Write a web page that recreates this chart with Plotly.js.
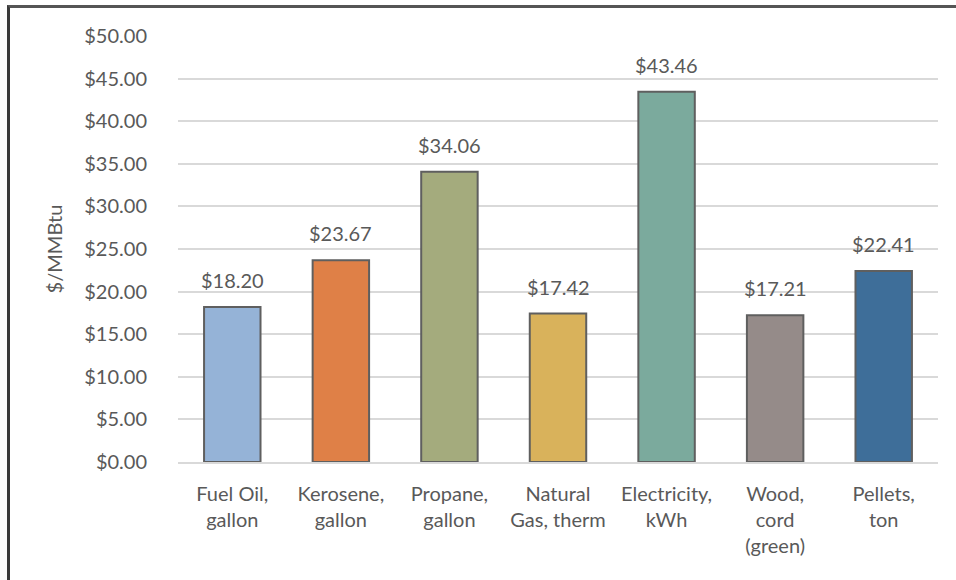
<!DOCTYPE html>
<html>
<head>
<meta charset="utf-8">
<script src="https://cdn.plot.ly/plotly-3.0.1.min.js"></script>
<style>
  html, body { margin: 0; padding: 0; background: #fff; }
  #wrap { position: relative; width: 956px; height: 580px; overflow: hidden; }
  #chart { position: absolute; left: 0; top: 0; width: 956px; height: 580px; }
  #frame {
    position: absolute; left: 7px; top: 5px; width: 960px; height: 573px;
    border-left: 3px solid #3a3a3a; border-top: 3px solid #555;
    border-bottom: 1px solid #c0c0c0; pointer-events: none;
  }
</style>
</head>
<body>
<div id="wrap">
  <div id="chart"></div>
  <div id="frame"></div>
</div>
<script>
// Heating fuel cost per million Btu
const fuels = [
  "Fuel Oil,<br>gallon",
  "Kerosene,<br>gallon",
  "Propane,<br>gallon",
  "Natural<br>Gas, therm",
  "Electricity,<br>kWh",
  "Wood,<br>cord<br>(green)",
  "Pellets,<br>ton"
];
const costPerMMBtu = [18.20, 23.67, 34.06, 17.42, 43.46, 17.21, 22.41];
const barColors = ["#95B3D7", "#DF8047", "#A4AB7D", "#D9B25B", "#7BAA9D", "#958B89", "#3E6E99"];
const yTickValues = [0, 5, 10, 15, 20, 25, 30, 35, 40, 45, 50];

const textColor = "#595959";
const font = "Lato, 'Open Sans', sans-serif";
const fsize = 20;

const money = v => "$" + v.toFixed(2);

const trace = {
  type: "bar",
  x: fuels,
  y: costPerMMBtu,
  marker: { color: barColors, line: { color: "#5f5f5f", width: 2 } },
  hoverinfo: "skip"
};

// value labels sitting above each bar
const valueLabels = fuels.map((f, i) => ({
  x: f,
  y: costPerMMBtu[i],
  xref: "x",
  yref: "y",
  text: money(costPerMMBtu[i]),
  showarrow: false,
  yanchor: "bottom",
  yshift: 13,
  font: { family: font, size: fsize, color: textColor }
}));

const layout = {
  width: 956,
  height: 580,
  margin: { l: 178, r: 18, t: 36, b: 118 },
  paper_bgcolor: "#ffffff",
  plot_bgcolor: "#ffffff",
  bargap: 0.48,
  showlegend: false,
  font: { family: font, size: fsize, color: textColor },
  annotations: valueLabels,
  xaxis: {
    tickfont: { family: font, size: fsize, color: textColor },
    showline: true, linecolor: "#d9d9d9", linewidth: 2,
    ticks: "", showgrid: false, fixedrange: true,
    ticklabelstandoff: 13
  },
  yaxis: {
    range: [0, 50],
    tickvals: yTickValues,
    ticktext: yTickValues.map(money),
    tickfont: { family: font, size: fsize, color: textColor },
    showgrid: true, gridcolor: "#d9d9d9", gridwidth: 2,
    zeroline: false, showline: false, ticks: "",
    ticklabelstandoff: 30,
    title: { text: "$/MMBtu", font: { family: font, size: fsize, color: textColor }, standoff: 16 },
    fixedrange: true
  }
};

Plotly.newPlot("chart", [trace], layout, { displayModeBar: false, staticPlot: true });
</script>
</body>
</html>
